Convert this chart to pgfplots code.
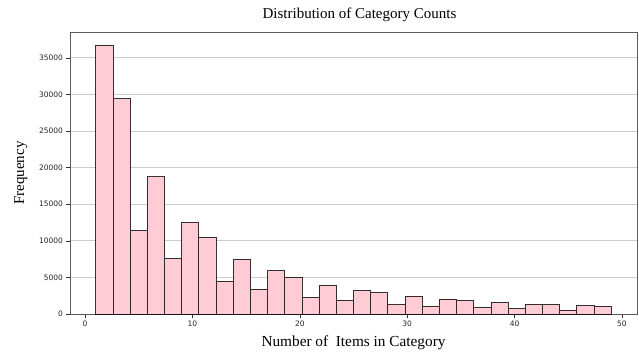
\documentclass[border=0pt]{standalone}
\usepackage{fontspec}
\setmainfont{Liberation Serif}
\newfontfamily\tickfont{DejaVu Sans}
\usepackage{pgfplots}
\pgfplotsset{compat=1.18}
\definecolor{barpink}{RGB}{255,204,213}
\definecolor{gridgray}{RGB}{204,204,204}
\begin{document}
\begin{tikzpicture}
\useasboundingbox (-70pt,-39pt) rectangle (569pt,314pt);
\begin{axis}[
  at={(0,0)}, anchor=south west,
  scale only axis, width=567pt, height=282pt,
  xmin=-1.4, xmax=51.4, ymin=0, ymax=38535,
  xtick={0,10,20,30,40,50},
  ytick={0,5000,10000,15000,20000,25000,30000,35000},
  scaled y ticks=false,
  /pgf/number format/set thousands separator={},
  /pgf/number format/assume math mode=true,
  tick label style={font=\tickfont\fontsize{7.5}{9}\selectfont, text=black!85},
  tick align=outside, tick pos=left,
  major tick length=3.5pt,
  tick style={black!80, line width=0.6pt},
  ymajorgrids, grid style={gridgray, line width=0.8pt},
  axis line style={black!65, line width=0.9pt},
  title={\fontsize{15}{18}\selectfont Distribution of Category Counts},
  title style={at={(0.5,1)}, above, yshift=1pt, xshift=6pt},
  xlabel={\fontsize{15.3}{18}\selectfont Number of \ Items in Category},
  ylabel={\fontsize{15}{18}\selectfont Frequency},
  xlabel style={yshift=-2pt},
  ylabel style={yshift=5pt},
]
\addplot[ybar interval, fill=barpink, draw=black, draw opacity=0.8, line width=0.8pt] coordinates {
(1,36700) (2.6,29400) (4.2,11400) (5.8,18750) (7.4,7650) (9,12500)
(10.6,10500) (12.2,4400) (13.8,7500) (15.4,3400) (17,5900) (18.6,5000)
(20.2,2250) (21.8,3900) (23.4,1850) (25,3200) (26.6,2900) (28.2,1250)
(29.8,2450) (31.4,1100) (33,2050) (34.6,1800) (36.2,870) (37.8,1550)
(39.4,700) (41,1350) (42.6,1270) (44.2,550) (45.8,1130) (47.4,1080)
(49,1080)
};
\end{axis}
\end{tikzpicture}
\end{document}
